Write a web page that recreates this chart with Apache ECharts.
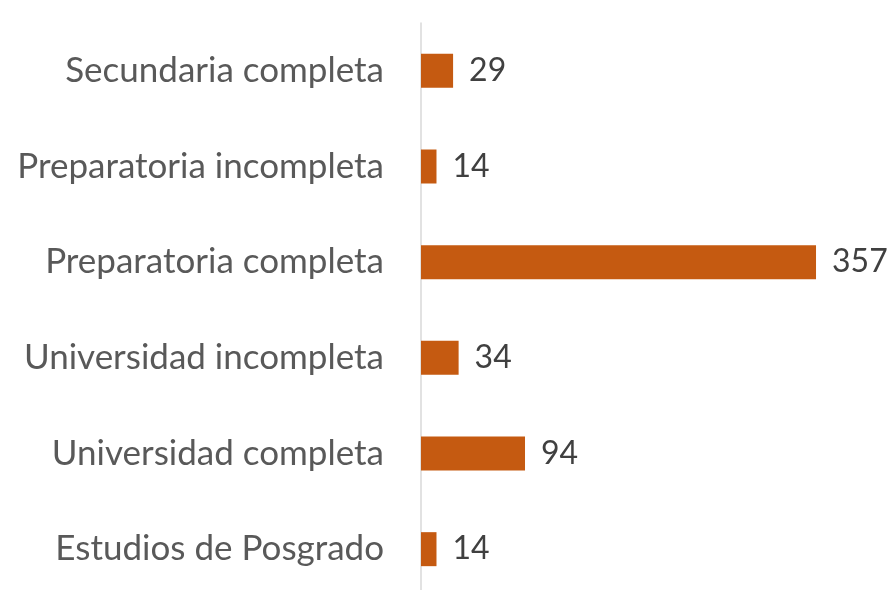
<!DOCTYPE html>
<html>
<head>
<meta charset="utf-8">
<script src="https://cdn.jsdelivr.net/npm/echarts@6/dist/echarts.min.js"></script>
<style>
  html, body { margin: 0; padding: 0; background: #fff; }
  #main { width: 889px; height: 590px; }
</style>
</head>
<body>
<div id="main"></div>
<script>
var categories = [
  "Secundaria completa",
  "Preparatoria incompleta",
  "Preparatoria completa",
  "Universidad incompleta",
  "Universidad completa",
  "Estudios de Posgrado"
];
var values = [29, 14, 357, 34, 94, 14];

var chartDom = document.getElementById("main");
var myChart = echarts.init(chartDom);
var option;

option = {
  animation: false,
  textStyle: { fontFamily: "Lato" },
  grid: {
    left: 421,
    top: 23,
    width: 442.6,
    height: 574,
    outerBoundsMode: "none",
  },
  xAxis: {
    type: "value",
    min: 0,
    max: 400,
    show: false,
  },
  yAxis: {
    type: "category",
    inverse: true,
    data: categories,
    axisTick: { show: false },
    axisLine: { lineStyle: { color: "#d9d9d9", width: 1.5 } },
    axisLabel: {
      margin: 37,
      fontSize: 35,
      color: "#595959",
      fontFamily: "Lato",
    },
  },
  series: [
    {
      type: "bar",
      data: values,
      barWidth: 34,
      itemStyle: { color: "#c55a11" },
      label: {
        show: true,
        position: "right",
        distance: 16,
        fontSize: 32,
        color: "#404040",
        fontFamily: "Lato",
      },
    },
  ],
};

option && myChart.setOption(option);
</script>
</body>
</html>
